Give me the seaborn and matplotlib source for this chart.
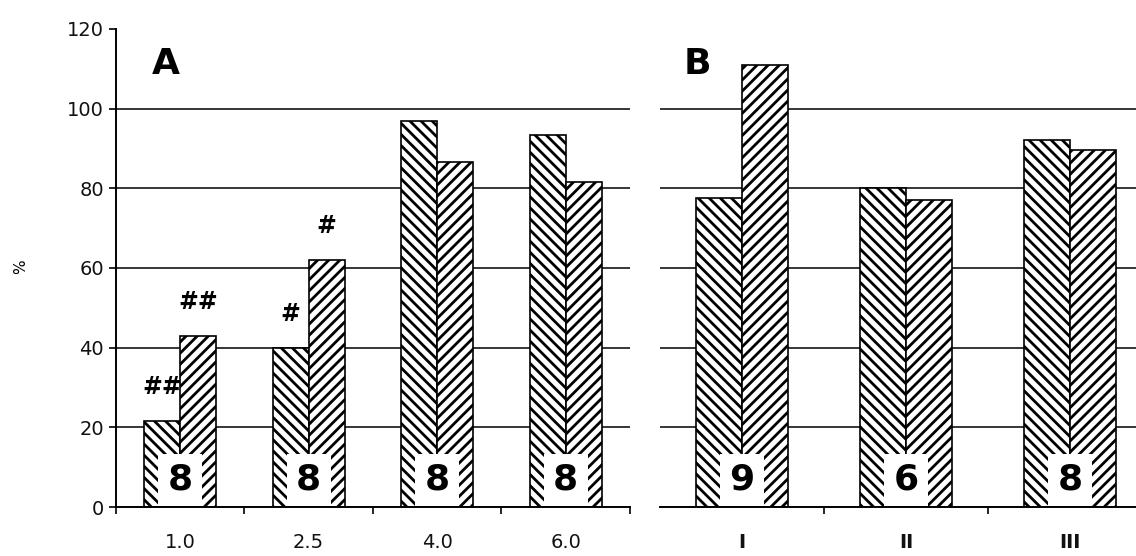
import matplotlib
matplotlib.use("Agg")
import matplotlib.pyplot as plt
import pandas as pd
import seaborn as sns

# data
dose_labels = ["1.0", "2.5", "4.0", "6.0"]
dose_first = [21.5, 40, 97, 93.5]
dose_second = [43, 62, 86.5, 81.5]
dose_n = ["8", "8", "8", "8"]

stage_labels = ["I", "II", "III"]
stage_first = [77.5, 80, 92]
stage_second = [111, 77, 89.5]
stage_n = ["9", "6", "8"]

# significance marks: (category index, bar 0/1, text)
dose_marks = [(0, 0, "##"), (0, 1, "##"), (1, 0, "#"), (1, 1, "#")]

sns.set_style("white")
plt.rcParams["font.family"] = ["DejaVu Sans"]
plt.rcParams["hatch.linewidth"] = 2.0
plt.rcParams["text.color"] = "black"
plt.rcParams["xtick.color"] = "black"
plt.rcParams["ytick.color"] = "black"
plt.rcParams["xtick.labelcolor"] = "#111111"
plt.rcParams["ytick.labelcolor"] = "#111111"


def long_df(labels, first, second):
    return pd.DataFrame({
        "cat": labels * 2,
        "grp": ["a"] * len(labels) + ["b"] * len(labels),
        "value": first + second,
    })


def draw_panel(ax, labels, first, second, n_labels, bold_ticks):
    df = long_df(labels, first, second)
    sns.barplot(data=df, x="cat", y="value", hue="grp", ax=ax,
                palette=["white", "white"], edgecolor="black", linewidth=1.2,
                width=0.56, legend=False, zorder=3)
    for bar in ax.containers[0]:
        bar.set_hatch("\\\\\\")
    for bar in ax.containers[1]:
        bar.set_hatch("///")
    ax.set_ylim(0, 120)
    ax.set_xlim(-0.5, len(labels) - 0.5)
    for yv in [20, 40, 60, 80, 100]:
        ax.axhline(yv, color="black", lw=1.1, zorder=1)
    # category boundary ticks, labels on centers
    ax.set_xticks([i - 0.5 for i in range(len(labels) + 1)], minor=False)
    ax.set_xticklabels([])
    ax.set_xticks(range(len(labels)), minor=True)
    ax.set_xticklabels(labels, minor=True,
                       fontweight="bold" if bold_ticks else "normal",
                       fontsize=14)
    ax.tick_params(axis="x", which="major", direction="out", length=5,
                   width=1.2, bottom=True)
    ax.tick_params(axis="x", which="minor", length=0, pad=19)
    ax.set_xlabel("")
    ax.set_ylabel("")
    for i, n in enumerate(n_labels):
        ax.text(i, 6.8, n, ha="center", va="center", fontsize=26,
                fontweight="heavy", zorder=5,
                bbox=dict(boxstyle="square,pad=0.26", facecolor="white",
                          edgecolor="none"))
    for s in ["top", "right"]:
        ax.spines[s].set_visible(False)
    ax.spines["bottom"].set_color("black")
    ax.spines["bottom"].set_linewidth(1.4)
    ax.spines["bottom"].set_zorder(6)


fig = plt.figure(figsize=(11.36, 5.56), dpi=100)
ax1 = fig.add_axes([0.102, 0.088, 0.4525, 0.86])
ax2 = fig.add_axes([0.581, 0.088, 0.433, 0.86])

draw_panel(ax1, dose_labels, dose_first, dose_second, dose_n, False)
draw_panel(ax2, stage_labels, stage_first, stage_second, stage_n, True)

# panel A y axis
ax1.set_yticks([0, 20, 40, 60, 80, 100, 120])
ax1.tick_params(axis="y", direction="out", length=5, width=1.2, left=True,
                labelsize=14)
ax1.spines["left"].set_color("black")
ax1.spines["left"].set_linewidth(1.4)

# panel B: no y axis
ax2.spines["left"].set_visible(False)
ax2.set_yticks([])
ax2.set_xticks([0.5, 1.5], minor=False)
ax2.set_xticklabels([])

for i, side, txt in dose_marks:
    vals = dose_first if side == 0 else dose_second
    xpos = i - 0.14 if side == 0 else i + 0.14
    ax1.text(xpos, vals[i] + 5.5, txt, ha="center", va="bottom",
             fontsize=17, fontweight="bold")

ax1.text(0.097, 0.927, "A", transform=ax1.transAxes, ha="center",
         va="center", fontsize=26, fontweight="heavy")
ax2.text(0.075, 0.927, "B", transform=ax2.transAxes, ha="center",
         va="center", fontsize=26, fontweight="heavy")

fig.text(0.018, 0.52, "%", rotation=90, ha="center", va="center",
         fontsize=11)

fig.savefig("out.png", dpi=100)
